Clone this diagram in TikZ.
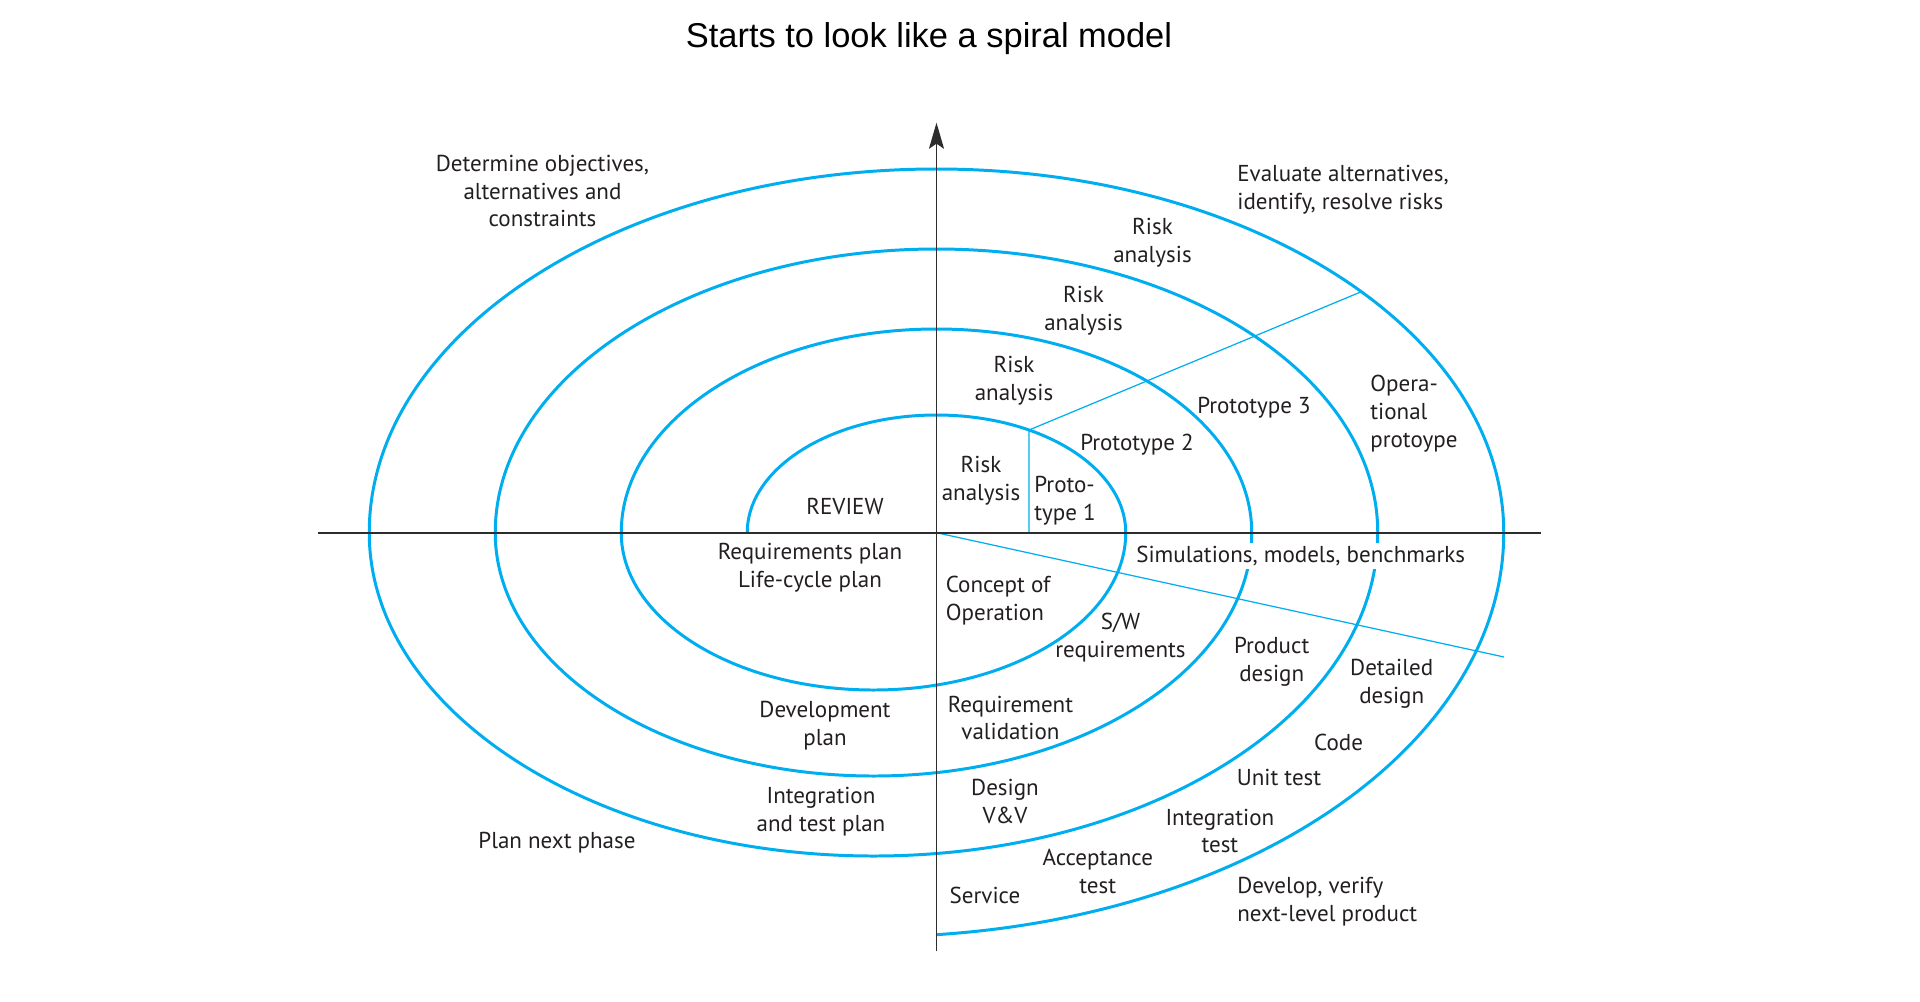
\documentclass[tikz,border=0pt]{standalone}
\usepackage{fontspec}
\setmainfont{PT Sans}
\newfontfamily\titlefont{Liberation Sans}
\usepackage{tikz}
\usetikzlibrary{arrows.meta, positioning, calc}
\definecolor{spiralblue}{RGB}{0, 174, 239}
\definecolor{axisgray}{RGB}{45, 45, 45}
\definecolor{inkblack}{RGB}{35, 31, 32}
\newcommand{\stagefont}{\fontsize{13.1pt}{15.9pt}\selectfont}

\begin{document}
\begin{tikzpicture}[
  stagetext/.style={align=center, inner sep=1pt, font=\stagefont, text=inkblack},
  spiralline/.style={draw=spiralblue, line width=1.7pt},
  guideline/.style={draw=spiralblue, line width=0.7pt},
  axisline/.style={draw=axisgray, line width=1.1pt}
]
  \useasboundingbox (-18.73,-9.366) rectangle (19.67,10.654);

  % Title
  \node[font=\titlefont\fontsize{19.6pt}{23pt}\selectfont] (title) at (-0.15, 9.89) {Starts to look like a spiral model};

  % Spiral
  \draw[spiralline] (-3.785,0)
    arc[start angle=180, end angle=0, x radius=3.785, y radius=2.354]
    arc[start angle=0, end angle=-180, x radius=5.045, y radius=3.146]
    arc[start angle=180, end angle=0, x radius=6.305, y radius=4.074]
    arc[start angle=0, end angle=-180, x radius=7.565, y radius=4.866]
    arc[start angle=180, end angle=0, x radius=8.825, y radius=5.674]
    arc[start angle=0, end angle=-180, x radius=10.085, y radius=6.466]
    arc[start angle=180, end angle=0, x radius=11.345, y radius=7.274]
    arc[start angle=0, end angle=-84.26, x radius=12.605, y radius=8.08];

  % Sector lines
  \coordinate (origin) at (0,0);
  \coordinate (p1top) at (60.74:3.785cm and 2.354cm);
  \coordinate (p1base) at (p1top |- origin);
  \coordinate (opedge) at (41.5:11.345cm and 7.274cm);
  \coordinate (simedge) at (11.35,-2.486);
  \draw[guideline] (p1base) -- (p1top) -- (opedge);
  \draw[guideline] (origin) -- (simedge);

  % Axes
  \coordinate (west) at (-12.375, 0);
  \coordinate (east) at (12.09, 0);
  \coordinate (south) at (0, -8.366);
  \coordinate (north) at (0, 8.2);
  \draw[axisline] (west) -- (east);
  \draw[axisline, line width=0.9pt, -{Stealth[length=5.2mm, width=3mm, inset=1mm]}] (south) -- (north);

  % Upper left
  \node[stagetext] (objectives) at (-7.88, 6.834) {Determine objectives,\\alternatives and\\constraints};
  \node[stagetext] (review) at (-1.83, 0.534) {REVIEW};

  % Upper right
  \node[stagetext, anchor=west, align=left] (evaluate) at (5.975, 6.864) {Evaluate alternatives,\\identify, resolve risks};
  \node[stagetext] (risk4) at (4.32, 5.804) {Risk\\analysis};
  \node[stagetext] (risk3) at (2.94, 4.444) {Risk\\analysis};
  \node[stagetext] (risk2) at (1.55, 3.044) {Risk\\analysis};
  \node[stagetext] (risk1) at (0.89, 1.034) {Risk\\analysis};
  \node[stagetext, anchor=west, align=left] (proto1) at (1.915, 0.634) {Proto-\\type 1};
  \node[stagetext] (proto2) at (4.01, 1.754) {Prototype 2};
  \node[stagetext] (proto3) at (6.35, 2.494) {Prototype 3};
  \node[stagetext, anchor=west, align=left] (opproto) at (8.635, 2.374) {Opera-\\tional\\protoype};

  % Lower left
  \node[stagetext] (reqplan) at (-2.53, -0.706) {Requirements plan\\Life-cycle plan};
  \node[stagetext] (devplan) at (-2.23, -3.866) {Development\\plan};
  \node[stagetext] (intplan) at (-2.31, -5.586) {Integration\\and test plan};
  \node[stagetext] (nextphase) at (-7.59, -6.206) {Plan next phase};

  % Lower right
  \node[stagetext, fill=white, inner ysep=2pt] (simulations) at (7.284, -0.466) {Simulations, models, benchmarks};
  \node[stagetext, anchor=west, align=left] (concept) at (0.145, -1.366) {Concept of\\Operation};
  \node[stagetext] (swreq) at (3.68, -2.096) {S/W\\requirements};
  \node[stagetext] (reqval) at (1.48, -3.706) {Requirement\\validation};
  \node[stagetext] (product) at (6.704, -2.576) {Product\\design};
  \node[stagetext] (detailed) at (9.104, -3.016) {Detailed\\design};
  \node[stagetext] (code) at (8.042, -4.186) {Code};
  \node[stagetext] (unittest) at (6.85, -4.886) {Unit test};
  \node[stagetext] (designvv) at (1.37, -5.376) {Design\\V\&V};
  \node[stagetext] (inttest) at (5.668, -5.966) {Integration\\test};
  \node[stagetext] (acceptance) at (3.226, -6.766) {Acceptance\\test};
  \node[stagetext] (service) at (0.97, -7.246) {Service};
  \node[stagetext, anchor=west, align=left] (develop) at (5.975, -7.384) {Develop, verify\\next-level product};
\end{tikzpicture}
\end{document}
